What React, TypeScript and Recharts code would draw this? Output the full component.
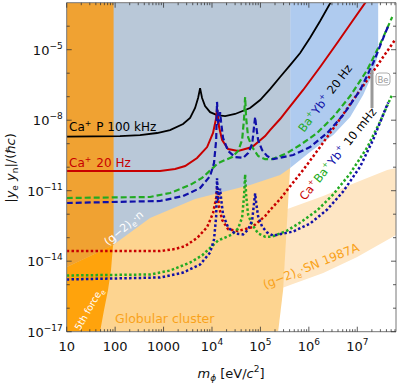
import React from 'react';
import { ComposedChart, Line, Area, XAxis, YAxis } from 'recharts';

const FONT = '"DejaVu Sans", Verdana, sans-serif';

// ---- axis ticks ----
const massMajorTicks = [10, 100, 1000, 1e4, 1e5, 1e6, 1e7];
const massTickLabels = [
  { b: '10', e: '' }, { b: '100', e: '' }, { b: '1000', e: '' },
  { b: '10', e: '4' }, { b: '10', e: '5' }, { b: '10', e: '6' }, { b: '10', e: '7' },
];
const minorMultipliers = [2, 3, 4, 5, 6, 7, 8, 9];
const couplingTicks = [1e-17, 1e-16, 1e-15, 1e-14, 1e-13, 1e-12, 1e-11, 1e-10, 1e-9, 1e-8, 1e-7, 1e-6, 1e-5, 1e-4];
const couplingLabeled = [1e-17, 1e-14, 1e-11, 1e-8, 1e-5];
const couplingTickLabels = ['−17', '−14', '−11', '−8', '−5'];

// ---- sensitivity curves [mass eV/c^2, |ye yn|/(hbar c)] ----
const caP100kHz: [number, number][] = [
  [10, 2.0e-9], [126, 2.1e-9], [327, 2.3e-9], [735, 2.85e-9], [1360, 3.8e-9], [2530, 6.9e-9],
  [3530, 1.24e-8], [4480, 3.3e-8], [5160, 8.8e-8], [5680, 2.3e-7], [6240, 8.8e-8], [7190, 4.0e-8],
  [9140, 2.2e-8], [12700, 1.66e-8], [18700, 1.5e-8], [30000, 1.84e-8], [61200, 3.3e-8], [98600, 7.2e-8],
  [158000, 2.1e-7], [255000, 6.9e-7], [411000, 2.2e-6], [661000, 7.2e-6], [1.06e6, 3.2e-5],
  [1.71e6, 1.66e-4], [3.18e6, 1.6e-3],
];
const ca20Hz: [number, number][] = [
  [10, 6.9e-11], [847, 6.9e-11], [1730, 8.4e-11], [2790, 1.12e-10], [4920, 2.46e-10], [7930, 7.2e-10],
  [10500, 2.85e-9], [12200, 1.24e-8], [12700, 3.3e-8], [13400, 1.24e-8], [14000, 5.1e-9], [16200, 1.44e-9],
  [21500, 5.9e-10], [34600, 4.9e-10], [67500, 7.2e-10], [125000, 2.1e-9], [158000, 3.8e-9],
  [255000, 1.12e-8], [356000, 2.7e-8], [762000, 1.93e-7], [1.71e6, 1.84e-6], [3.84e6, 1.93e-5],
  [8.22e6, 1.84e-4], [1.6e7, 1.3e-3],
];
const ca10mHz: [number, number][] = [
  [10, 2.7e-14], [847, 2.7e-14], [1730, 3.3e-14], [2790, 4.4e-14], [4920, 9.7e-14], [7930, 2.8e-13],
  [10500, 1.12e-12], [12200, 4.9e-12], [12700, 1.3e-11], [13400, 4.9e-12], [14000, 2.0e-12], [16200, 5.7e-13],
  [21500, 2.3e-13], [34600, 1.93e-13], [67500, 2.8e-13], [125000, 8.3e-13], [158000, 1.5e-12],
  [255000, 4.4e-12], [356000, 1.06e-11], [762000, 7.6e-11], [1.71e6, 7.3e-10], [3.84e6, 7.6e-9],
  [8.22e6, 7.3e-8], [1.6e7, 5.1e-7], [6.0e7, 2.6e-5],
];
const ba20Hz: [number, number][] = [
  [10, 4.9e-12], [526, 5.4e-12], [1360, 8.0e-12], [3530, 1.75e-11], [6240, 3.5e-11], [13400, 1.5e-10],
  [26000, 2.7e-10], [34600, 4.9e-10], [41900, 1.44e-9], [46000, 1.24e-8], [48300, 9.7e-8], [50700, 1.24e-8],
  [55700, 1.9e-9], [67500, 7.2e-10], [89700, 3.0e-10], [125000, 2.2e-10], [175000, 2.2e-10],
  [356000, 4.0e-10], [661000, 8.8e-10], [1.48e6, 2.85e-9], [3.18e6, 1.37e-8], [7.13e6, 1.07e-7],
  [1.6e7, 1.37e-6], [2.97e7, 1.75e-5], [5.26e7, 2.46e-4],
];
const ba10mHz: [number, number][] = [
  [10, 2.47e-15], [526, 2.72e-15], [1360, 4.0e-15], [3530, 8.8e-15], [6240, 1.76e-14], [13400, 7.6e-14],
  [26000, 1.36e-13], [34600, 2.47e-13], [41900, 7.3e-13], [46000, 6.25e-12], [48300, 4.9e-11], [50700, 6.25e-12],
  [55700, 9.6e-13], [67500, 3.63e-13], [89700, 1.51e-13], [125000, 1.11e-13], [175000, 1.11e-13],
  [356000, 2.0e-13], [661000, 4.4e-13], [1.48e6, 1.44e-12], [3.18e6, 6.9e-12], [7.13e6, 5.4e-11],
  [1.6e7, 6.9e-10], [2.97e7, 8.8e-9], [5.26e7, 1.24e-7],
];
const yb20Hz: [number, number][] = [
  [10, 3.0e-12], [847, 3.65e-12], [2530, 5.9e-12], [5680, 1.3e-11], [9140, 4.2e-11], [11000, 1.5e-10],
  [12200, 1.44e-9], [12700, 6.0e-8], [13400, 8.4e-9], [14000, 1.0e-8], [14700, 2.2e-8], [15400, 8.4e-9],
  [16900, 1.75e-9], [21500, 4.9e-10], [30000, 2.7e-10], [44000, 2.5e-10], [55700, 4.0e-10], [67500, 9.7e-10],
  [74100, 5.7e-9], [77800, 1.37e-8], [81500, 5.7e-9], [89700, 1.44e-9], [108000, 5.4e-10], [137000, 3.0e-10],
  [183000, 2.2e-10], [474000, 3.3e-10], [1.06e6, 7.2e-10], [2.39e6, 2.85e-9], [5.11e6, 1.66e-8],
  [1.15e7, 1.93e-7], [2.13e7, 2.7e-6], [3.77e7, 5.1e-5], [4.35e7, 1.0e-4],
];
const yb10mHz: [number, number][] = [
  [10, 1.67e-15], [847, 2.03e-15], [2530, 3.28e-15], [5680, 7.2e-15], [9140, 2.34e-14], [11000, 8.3e-14],
  [12200, 8.0e-13], [12700, 3.34e-11], [13400, 4.7e-12], [14000, 5.6e-12], [14700, 1.22e-11], [15400, 4.7e-12],
  [16900, 9.7e-13], [21500, 2.72e-13], [30000, 1.5e-13], [44000, 1.39e-13], [55700, 2.22e-13], [67500, 5.4e-13],
  [74100, 3.17e-12], [77800, 7.6e-12], [81500, 3.17e-12], [89700, 8.0e-13], [108000, 3.0e-13], [137000, 1.67e-13],
  [183000, 1.22e-13], [474000, 1.83e-13], [1.06e6, 4.0e-13], [2.39e6, 1.58e-12], [5.11e6, 9.2e-12],
  [1.15e7, 1.07e-10], [2.13e7, 1.5e-9], [3.77e7, 2.84e-8], [4.35e7, 5.6e-8],
];

// ---- excluded regions [mass, lower, upper] ----
const globularCluster: [number, number, number][] = [
  [10, 1e-17, 1e-3], [232000, 1e-17, 1e-3], [294000, 5.9e-16, 1e-3], [411000, 1.0e-10, 1e-3],
];
const g2NeutronLow: [number, number, number][] = [
  [10, 5.66e-15, 1e-3], [91, 4.89e-14, 1e-3], [526, 6.89e-13, 1e-3], [4480, 4.44e-12, 1e-3],
  [61200, 1.75e-11, 1e-3], [255000, 4.66e-11, 1e-3], [411000, 9.25e-11, 1e-3],
];
const g2NeutronHigh: [number, number, number][] = [
  [411000, 9.25e-11, 1e-3], [1.06e6, 4.44e-10, 1e-3], [3.18e6, 2.34e-9, 1e-3], [7.13e6, 1.37e-8, 1e-3],
  [1.32e7, 1.18e-7, 1e-3], [2.03e7, 8.37e-7, 1e-3], [2.7e7, 5.94e-6, 1e-3],
];
const fifthForceUpper: [number, number, number][] = [
  [10, 5.66e-15, 1e-3], [93, 4.89e-14, 1e-3],
];
const fifthForceLower: [number, number, number][] = [
  [10, 1e-17, 5.66e-15], [48.8, 1e-17, 2.67e-14], [59, 8.4e-17, 3.2e-14], [71.3, 5.9e-16, 3.86e-14],
  [82.2, 4.2e-15, 4.44e-14], [90.6, 4.89e-14, 4.89e-14],
];
const sn1987A: [number, number, number][] = [
  [61200, 2.23e-16, 4.66e-13], [411000, 9.7e-16, 1.84e-12], [1.98e6, 3.15e-15, 5.94e-12],
  [9.95e6, 1.51e-14, 2.34e-11], [4.15e7, 7.98e-14, 7.6e-11], [6.3e7, 1.3e-13, 9.25e-11],
];

const toLine = (arr: [number, number][]) => arr.map(([x, y]) => ({ x, y }));
const toBand = (arr: [number, number, number][]) => arr.map(([x, lo, hi]) => ({ x, r: [lo, hi] }));

const massTicks: number[] = [];
massMajorTicks.forEach((d) => {
  massTicks.push(d);
  minorMultipliers.forEach((m) => { if (m * d <= 6.3e7) massTicks.push(m * d); });
});

const TICK = '#333';

function BottomTick(props: any) {
  const { x, y, payload } = props;
  const i = massMajorTicks.indexOf(payload.value);
  const major = i >= 0;
  return (
    <g>
      <line x1={x} x2={x} y1={y} y2={y - (major ? 5 : 2.5)} stroke={TICK} strokeWidth={0.8} />
      {major && (
        <text x={x} y={y + 19} textAnchor="middle" fontSize={13} fontFamily={FONT} fill="#111">
          {massTickLabels[i].b}
          {massTickLabels[i].e && <tspan dy={-6} fontSize={9}>{massTickLabels[i].e}</tspan>}
        </text>
      )}
    </g>
  );
}
function TopTick(props: any) {
  const { x, y, payload } = props;
  const major = massMajorTicks.indexOf(payload.value) >= 0;
  return <line x1={x} x2={x} y1={y} y2={y + (major ? 5 : 2.5)} stroke={TICK} strokeWidth={0.8} />;
}
function LeftTick(props: any) {
  const { x, y, payload } = props;
  const i = couplingLabeled.indexOf(payload.value);
  return (
    <g>
      <line x1={x} x2={x + (i >= 0 ? 5 : 3)} y1={y} y2={y} stroke={TICK} strokeWidth={0.8} />
      {i >= 0 && (
        <text x={x - 4} y={y + 5} textAnchor="end" fontSize={13} fontFamily={FONT} fill="#111">
          10<tspan dy={-6} fontSize={9}>{couplingTickLabels[i]}</tspan>
        </text>
      )}
    </g>
  );
}
function RightTick(props: any) {
  const { x, y, payload } = props;
  const i = couplingLabeled.indexOf(payload.value);
  return <line x1={x} x2={x - (i >= 0 ? 5 : 3)} y1={y} y2={y} stroke={TICK} strokeWidth={0.8} />;
}

const RED = '#C80000';
const GREEN = '#22AA22';
const BLUE = '#1010A8';
const ORANGE_TXT = '#F9A21A';

const Sup = ({ children, fill }: any) => (
  <>
    <tspan dy={-5} fontSize="0.65em" fill={fill}>{children}</tspan>
    <tspan dy={5}>{'\u200a'}</tspan>
  </>
);

export default function App() {
  const common = { xAxisId: 'b', yAxisId: 'l', isAnimationActive: false } as any;
  return (
    <div style={{ position: 'absolute', left: 0, top: 0, width: 399, height: 385, background: '#fff' }}>
      <ComposedChart width={399} height={385} margin={{ top: 1.7, right: 2, bottom: 23.3, left: 6.7 }}>
        <XAxis xAxisId="b" type="number" dataKey="x" scale="log" domain={[10, 6.3e7]} allowDataOverflow
          ticks={massTicks} interval={0} tickSize={0} tickMargin={0} tick={<BottomTick />} tickLine={false}
          axisLine={{ stroke: '#777' }} height={30} orientation="bottom" />
        <XAxis xAxisId="t" type="number" dataKey="x" scale="log" domain={[10, 6.3e7]} allowDataOverflow
          ticks={massTicks} interval={0} tickSize={0} tickMargin={0} tick={<TopTick />} tickLine={false}
          axisLine={{ stroke: '#777' }} height={1} orientation="top" />
        <YAxis yAxisId="l" type="number" scale="log" domain={[1e-17, 1e-3]} allowDataOverflow
          ticks={couplingTicks} interval={0} tickSize={0} tickMargin={0} tick={<LeftTick />} tickLine={false}
          axisLine={{ stroke: '#777' }} width={60} orientation="left" />
        <YAxis yAxisId="r" type="number" scale="log" domain={[1e-17, 1e-3]} allowDataOverflow
          ticks={couplingTicks} interval={0} tickSize={0} tickMargin={0} tick={<RightTick />} tickLine={false}
          axisLine={{ stroke: '#777' }} width={1} orientation="right" />

        <Area {...common} data={toBand(sn1987A)} dataKey="r" stroke="none" fill="#FEE6C4" fillOpacity={1} />
        <Area {...common} data={toBand(globularCluster)} dataKey="r" stroke="none" fill="#FDD490" fillOpacity={1} />
        <Area {...common} data={toBand(g2NeutronHigh)} dataKey="r" stroke="none" fill="#AFCBEF" fillOpacity={1} />
        <Area {...common} data={toBand(g2NeutronLow)} dataKey="r" stroke="none" fill="#B9C8D8" fillOpacity={1} />
        <Area {...common} data={toBand(fifthForceUpper)} dataKey="r" stroke="none" fill="#F0A232" fillOpacity={1} />
        <Area {...common} data={toBand(fifthForceLower)} dataKey="r" stroke="none" fill="#FFA30C" fillOpacity={1} />

        <Line {...common} data={toLine(caP100kHz)} dataKey="y" stroke="#000" strokeWidth={1.8} dot={false} activeDot={false} />
        <Line {...common} data={toLine(ca20Hz)} dataKey="y" stroke={RED} strokeWidth={2} dot={false} activeDot={false} />
        <Line {...common} data={toLine(ca10mHz)} dataKey="y" stroke={RED} strokeWidth={2.5} strokeDasharray="2.5 2.3" dot={false} activeDot={false} />
        <Line {...common} data={toLine(ba20Hz)} dataKey="y" stroke={GREEN} strokeWidth={2.2} strokeDasharray="6 3" dot={false} activeDot={false} />
        <Line {...common} data={toLine(ba10mHz)} dataKey="y" stroke={GREEN} strokeWidth={2.5} strokeDasharray="2.5 2.3" dot={false} activeDot={false} />
        <Line {...common} data={toLine(yb20Hz)} dataKey="y" stroke={BLUE} strokeWidth={2.2} strokeDasharray="6 3" dot={false} activeDot={false} />
        <Line {...common} data={toLine(yb10mHz)} dataKey="y" stroke={BLUE} strokeWidth={2.5} strokeDasharray="2.5 2.3" dot={false} activeDot={false} />
      </ComposedChart>

      <svg width={399} height={385} style={{ position: 'absolute', left: 0, top: 0, pointerEvents: 'none' }}
        fontFamily={FONT}>
        <text x={69} y={131} fontSize={12} fill="#000">Ca<Sup>+</Sup> P 100 kHz</text>
        <text x={69} y={167} fontSize={12} fill={RED}>Ca<Sup>+</Sup> 20 Hz</text>
        <text x={108} y={246} fontSize={11} fill="#fff" transform="rotate(-40 108 246)">
          (g−2)<tspan dy={3} fontSize={8}>e</tspan><tspan dy={-3}>·n</tspan>
        </text>
        <text x={80} y={331} fontSize={9.5} fill="#fff" transform="rotate(-60 80 331)">
          5th force<tspan dy={3} fontSize={7}>e</tspan>
        </text>
        <text x={115} y={323} fontSize={12.5} fill={ORANGE_TXT}>Globular cluster</text>
        <text x={265} y={289} fontSize={12} fill={ORANGE_TXT} transform="rotate(-22 265 289)">
          (g−2)<tspan dy={3} fontSize={8}>e</tspan><tspan dy={-3}>·SN 1987A</tspan>
        </text>
        <text x={304} y={133} fontSize={11.5} fill="#000" transform="rotate(-53 304 133)">
          <tspan fill={GREEN}>Ba</tspan><Sup fill={GREEN}>+</Sup><tspan fill={BLUE}>Yb</tspan><Sup fill={BLUE}>+</Sup> 20 Hz
        </text>
        <text x={305} y={201} fontSize={11.5} fill="#000" transform="rotate(-51 305 201)">
          <tspan fill={RED}>Ca</tspan><Sup fill={RED}>+</Sup><tspan fill={GREEN}>Ba</tspan><Sup fill={GREEN}>+</Sup><tspan fill={BLUE}>Yb</tspan><Sup fill={BLUE}>+</Sup> 10 mHz
        </text>
        <line x1={372} x2={372} y1={70} y2={108} stroke="#999" strokeWidth={3} />
        <rect x={376} y={73} width={14} height={12} rx={3} fill="#fff" stroke="#999" strokeWidth={0.8} />
        <text x={383} y={82.5} fontSize={8.5} fill="#999" textAnchor="middle">Be</text>

        <text x={231} y={378} fontSize={13} fill="#111" textAnchor="middle">
          <tspan fontStyle="italic">m</tspan><tspan dy={3} fontSize={9} fontStyle="italic">ϕ</tspan><tspan dy={-3}> [eV/</tspan><tspan fontStyle="italic">c</tspan><tspan dy={-6} fontSize={9}>2</tspan><tspan dy={6}>]</tspan>
        </text>
        <text x={15} y={168} fontSize={13} fill="#111" textAnchor="middle" transform="rotate(-90 15 168)">
          |<tspan fontStyle="italic">y</tspan><tspan dy={3} fontSize={9}>e</tspan><tspan dy={-3} fontStyle="italic"> y</tspan><tspan dy={3} fontSize={9}>n</tspan><tspan dy={-3}>|/(ℏ</tspan><tspan fontStyle="italic">c</tspan>)
        </text>
      </svg>
    </div>
  );
}
